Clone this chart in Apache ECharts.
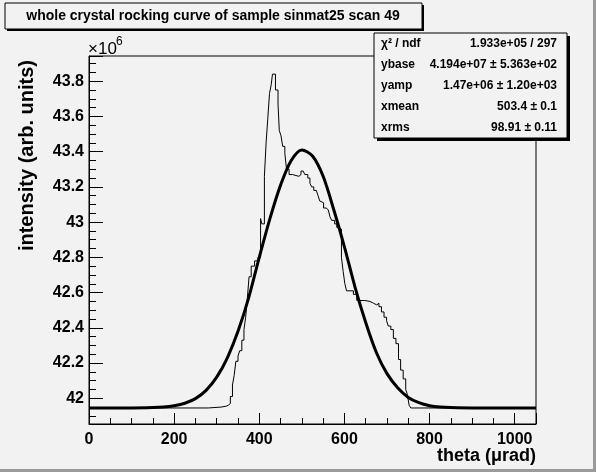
<!DOCTYPE html>
<html>
<head>
<meta charset="utf-8">
<script src="https://cdn.jsdelivr.net/npm/echarts@6/dist/echarts.min.js"></script>
<style>
html, body { margin: 0; padding: 0; background: #f2f2f2; }
#chart { width: 596px; height: 472px; }
</style>
</head>
<body>
<div id="chart"></div>
<script>
// histogram (bin edges where the value changes), intensity in units of 1e6
var histTheta = [0, 280, 310, 322, 327, 332, 337, 341, 345, 350,
	354, 359, 364, 368, 372, 376, 381, 389, 397, 403,
	406, 412, 416, 420, 424, 428, 431, 438, 444, 447,
	451, 455, 460, 464, 470, 478, 493, 498, 503, 507,
	514, 519, 523, 528, 534, 538, 542, 546, 551, 557,
	562, 566, 570, 577, 582, 586, 593, 597, 601, 605,
	621, 629, 648, 660, 668, 676, 681, 687, 693, 699,
	703, 709, 715, 721, 727, 732, 738, 744, 748, 752,
	756, 1050];
var histValue = [41.945, 41.95, 41.955, 41.96, 41.97, 42.01, 42.075, 42.13, 42.21, 42.24,
	42.27, 42.33, 42.39, 42.46, 42.57, 42.69, 42.75, 42.78, 42.80, 43.02,
	42.99, 43.26, 43.45, 43.59, 43.73, 43.78, 43.84, 43.75, 43.67, 43.52,
	43.49, 43.43, 43.39, 43.30, 43.27, 43.26, 43.27, 43.29, 43.28, 43.27,
	43.25, 43.22, 43.20, 43.18, 43.17, 43.15, 43.12, 43.11, 43.08, 43.07,
	43.06, 43.03, 43.01, 42.99, 42.97, 42.96, 42.80, 42.72, 42.65, 42.61,
	42.59, 42.555, 42.55, 42.54, 42.53, 42.54, 42.52, 42.49, 42.46, 42.44,
	42.41, 42.39, 42.34, 42.31, 42.22, 42.16, 42.11, 42.05, 42.02, 41.96,
	41.945, 41.945];

// fitted curve
var fitTheta = [0, 100, 150, 175, 200, 225, 250, 275, 300, 325, 350, 375, 400, 425, 450, 475, 500,
	525, 550, 575, 600, 625, 650, 675, 700, 725, 750, 775, 800, 825, 850, 900, 1050];
var fitValue = [41.945, 41.945, 41.947, 41.95, 41.958, 41.972, 41.998, 42.045, 42.12, 42.23, 42.38, 42.57, 42.80, 43.02, 43.21, 43.35, 43.41,
	43.375, 43.26, 43.07, 42.86, 42.63, 42.43, 42.26, 42.14, 42.06, 42.005, 41.975, 41.958, 41.95, 41.947, 41.945, 41.945];

var statNames = ['χ² / ndf', 'ybase', 'yamp', 'xmean', 'xrms'];
var statValues = ['1.933e+05 / 297', '4.194e+07 ± 5.363e+02', '1.47e+06 ± 1.20e+03', '503.4 ± 0.1', '98.91 ± 0.11'];

var titleText = 'whole crystal rocking curve of sample sinmat25 scan 49';
var xTitle = 'theta (μrad)';
var yTitle = 'intensity (arb. units)';

var FONT = '"Liberation Sans", Arial, Helvetica, sans-serif';

function pairs(xs, ys) {
	var out = [];
	for (var i = 0; i < xs.length; i++) out.push([xs[i], ys[i]]);
	return out;
}

function tickFmt(step) {
	return function(v) {
		var k = v / step;
		if (Math.abs(k - Math.round(k)) > 1e-6) return '';
		return String(+v.toFixed(1));
	};
}

var graphics = [
	// canvas bevel
	{ type: 'rect', shape: { x: 0, y: 469, width: 596, height: 3 }, style: { fill: '#9a9a9a' }, silent: true },
	{ type: 'rect', shape: { x: 593, y: 0, width: 3, height: 472 }, style: { fill: '#9a9a9a' }, silent: true },
	// title box
	{ type: 'rect', z: 10, shape: { x: 7, y: 5, width: 417, height: 26 }, style: { fill: '#000' } },
	{ type: 'rect', z: 11, shape: { x: 5, y: 3, width: 417, height: 26 }, style: { fill: '#f2f2f2', stroke: '#000', lineWidth: 1 } },
	{ type: 'text', z: 12, x: 213, y: 16, style: { text: titleText, font: 'bold 14px ' + FONT, fill: '#000', align: 'center', verticalAlign: 'middle' } },
	// x10^6
	{ type: 'text', z: 12, x: 88, y: 58, style: { text: '×10', font: '17px ' + FONT, fill: '#000', align: 'left', verticalAlign: 'bottom' } },
	{ type: 'text', z: 12, x: 116, y: 36, style: { text: '6', font: '12px ' + FONT, fill: '#000', align: 'left', verticalAlign: 'top' } },
	// axis titles
	{ type: 'text', z: 12, x: 536, y: 456, style: { text: xTitle, font: 'bold 18px ' + FONT, fill: '#000', align: 'right', verticalAlign: 'middle' } },
	{ type: 'text', z: 12, x: 27, y: 60, rotation: Math.PI / 2, style: { text: yTitle, font: 'bold 20px ' + FONT, fill: '#000', align: 'right', verticalAlign: 'middle' } },
	// stats box
	{ type: 'rect', z: 10, shape: { x: 377, y: 36, width: 193, height: 105 }, style: { fill: '#000' } },
	{ type: 'rect', z: 11, shape: { x: 374, y: 33, width: 193, height: 105 }, style: { fill: '#f2f2f2', stroke: '#000', lineWidth: 1 } }
];
for (var i = 0; i < statNames.length; i++) {
	var yy = 44 + i * 21;
	graphics.push({ type: 'text', z: 12, x: 381, y: yy, style: { text: statNames[i], font: 'bold 12px ' + FONT, fill: '#000', align: 'left', verticalAlign: 'middle' } });
	graphics.push({ type: 'text', z: 12, x: 557, y: yy, style: { text: statValues[i], font: 'bold 12px ' + FONT, fill: '#000', align: 'right', verticalAlign: 'middle' } });
}

var option = {
	animation: false,
	backgroundColor: '#f2f2f2',
	grid: {
		left: 89, right: 60, top: 56, bottom: 48,
		show: true, borderColor: '#000', borderWidth: 1, backgroundColor: 'transparent'
	},
	xAxis: {
		type: 'value', min: 0, max: 1050, interval: 200,
		axisLine: { show: true, onZero: false, lineStyle: { color: '#000', width: 1 } },
		axisTick: { show: true, inside: true, length: 11, lineStyle: { color: '#000' } },
		minorTick: { show: true, splitNumber: 4, length: 6, lineStyle: { color: '#000' } },
		splitLine: { show: false },
		axisLabel: { margin: 8, color: '#000', fontFamily: FONT, fontWeight: 'bold', fontSize: 16, formatter: tickFmt(200) }
	},
	yAxis: {
		type: 'value', min: 41.854, max: 43.943, splitNumber: 10, scale: true,
		axisLine: { show: true, onZero: false, lineStyle: { color: '#000', width: 1 } },
		axisTick: { show: true, inside: true, length: 14, lineStyle: { color: '#000' } },
		minorTick: { show: true, splitNumber: 4, length: 7, lineStyle: { color: '#000' } },
		splitLine: { show: false },
		axisLabel: { margin: 5, color: '#000', fontFamily: FONT, fontWeight: 'bold', fontSize: 16, formatter: tickFmt(0.2) }
	},
	series: [
		{
			type: 'line', name: 'data', step: 'end', showSymbol: false, silent: true,
			lineStyle: { color: '#000', width: 1 },
			data: pairs(histTheta, histValue), z: 2
		},
		{
			type: 'line', name: 'fit', smooth: 0.3, showSymbol: false, silent: true,
			lineStyle: { color: '#000', width: 3 },
			data: pairs(fitTheta, fitValue), z: 3
		}
	],
	graphic: graphics
};

var myChart = echarts.init(document.getElementById('chart'));
myChart.setOption(option);
</script>
</body>
</html>
